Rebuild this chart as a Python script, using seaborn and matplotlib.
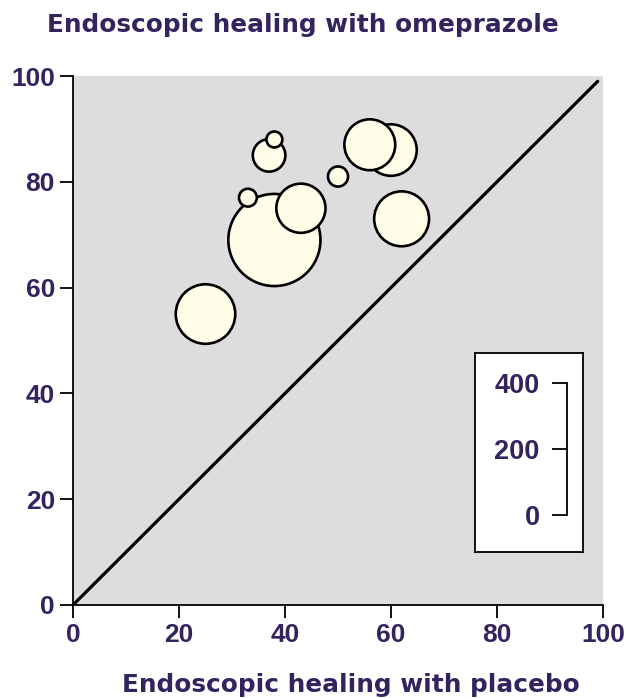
import matplotlib
matplotlib.use("Agg")
import matplotlib.pyplot as plt
import seaborn as sns
import pandas as pd

# Data
placebo = [38, 25, 62, 60, 56, 43, 37, 50, 33, 38]
omeprazole = [69, 55, 73, 86, 87, 75, 85, 81, 77, 88]
n_patients = [400, 167, 142, 125, 122, 114, 50, 19, 15, 12]
diag = [0, 99]
ticks = [0, 20, 40, 60, 80, 100]
scale_ticks = [0, 200, 400]

title = "Endoscopic healing with omeprazole"
xlabel = "Endoscopic healing with placebo"

sns.set_theme(style="white")
plt.rcParams["font.family"] = ["Liberation Sans", "DejaVu Sans"]
plt.rcParams["font.weight"] = "bold"

TXT = "#33235f"
FS_TICK = 19
FS_LEG = 19.5
FS_LAB = 17.8
LAB_FAMILY = ["DejaVu Sans"]

W, H = 630, 698
fig = plt.figure(figsize=(W / 100, H / 100), dpi=100)

def px_axes(x0, y0, x1, y1):
    return [x0 / W, 1 - y1 / H, (x1 - x0) / W, (y1 - y0) / H]

ax = fig.add_axes(px_axes(73, 76, 603, 605))
ax.set_facecolor("#dddddd")

df = pd.DataFrame({"placebo": placebo, "omeprazole": omeprazole, "n": n_patients})

sns.lineplot(x=diag, y=diag, ax=ax, color="black", linewidth=2.3, zorder=1)
sns.scatterplot(data=df, x="placebo", y="omeprazole", size="n",
                sizes=(0, 4400), size_norm=(0, 400), legend=False,
                color="#fffde8", edgecolor="black", linewidth=1.9,
                alpha=1, ax=ax, zorder=2)

ax.set_xlim(0, 100)
ax.set_ylim(0, 100)
ax.set_xticks(ticks)
ax.set_yticks(ticks)
ax.set_xlabel("")
ax.set_ylabel("")
for s in ["top", "right"]:
    ax.spines[s].set_visible(False)
for s in ["left", "bottom"]:
    ax.spines[s].set_color("black")
    ax.spines[s].set_linewidth(1.3)
ax.tick_params(axis="both", direction="out", length=9.4, width=1.3,
               color="black", labelsize=FS_TICK, labelcolor=TXT, pad=3.6,
               left=True, bottom=True)
for lab in ax.get_xticklabels() + ax.get_yticklabels():
    lab.set_fontweight("bold")

fig.text(47 / W, 1 - 32 / H, title, fontsize=FS_LAB, fontweight="bold",
         family=LAB_FAMILY, color=TXT, ha="left", va="baseline")
fig.text(122 / W, 1 - 692 / H, xlabel, fontsize=FS_LAB, fontweight="bold",
         family=LAB_FAMILY, color=TXT, ha="left", va="baseline")

# scale legend box
box = fig.add_axes(px_axes(475, 353, 583, 552))
box.set_facecolor("white")
box.set_xticks([])
box.set_yticks([])
for s in box.spines.values():
    s.set_color("black")
    s.set_linewidth(1.3)
    s.set_visible(True)

sc = fig.add_axes(px_axes(567, 383, 580, 515))
sc.patch.set_visible(False)
sc.set_ylim(0, 400)
sc.set_yticks(scale_ticks)
sc.set_xticks([])
for s in ["top", "right", "bottom"]:
    sc.spines[s].set_visible(False)
sc.spines["left"].set_color("black")
sc.spines["left"].set_linewidth(1.3)
sc.tick_params(axis="y", direction="out", length=11, width=1.3, color="black",
               labelsize=FS_LEG, labelcolor=TXT, pad=8.6, left=True)
for lab in sc.get_yticklabels():
    lab.set_fontweight("bold")

fig.savefig("out.png", dpi=100)
